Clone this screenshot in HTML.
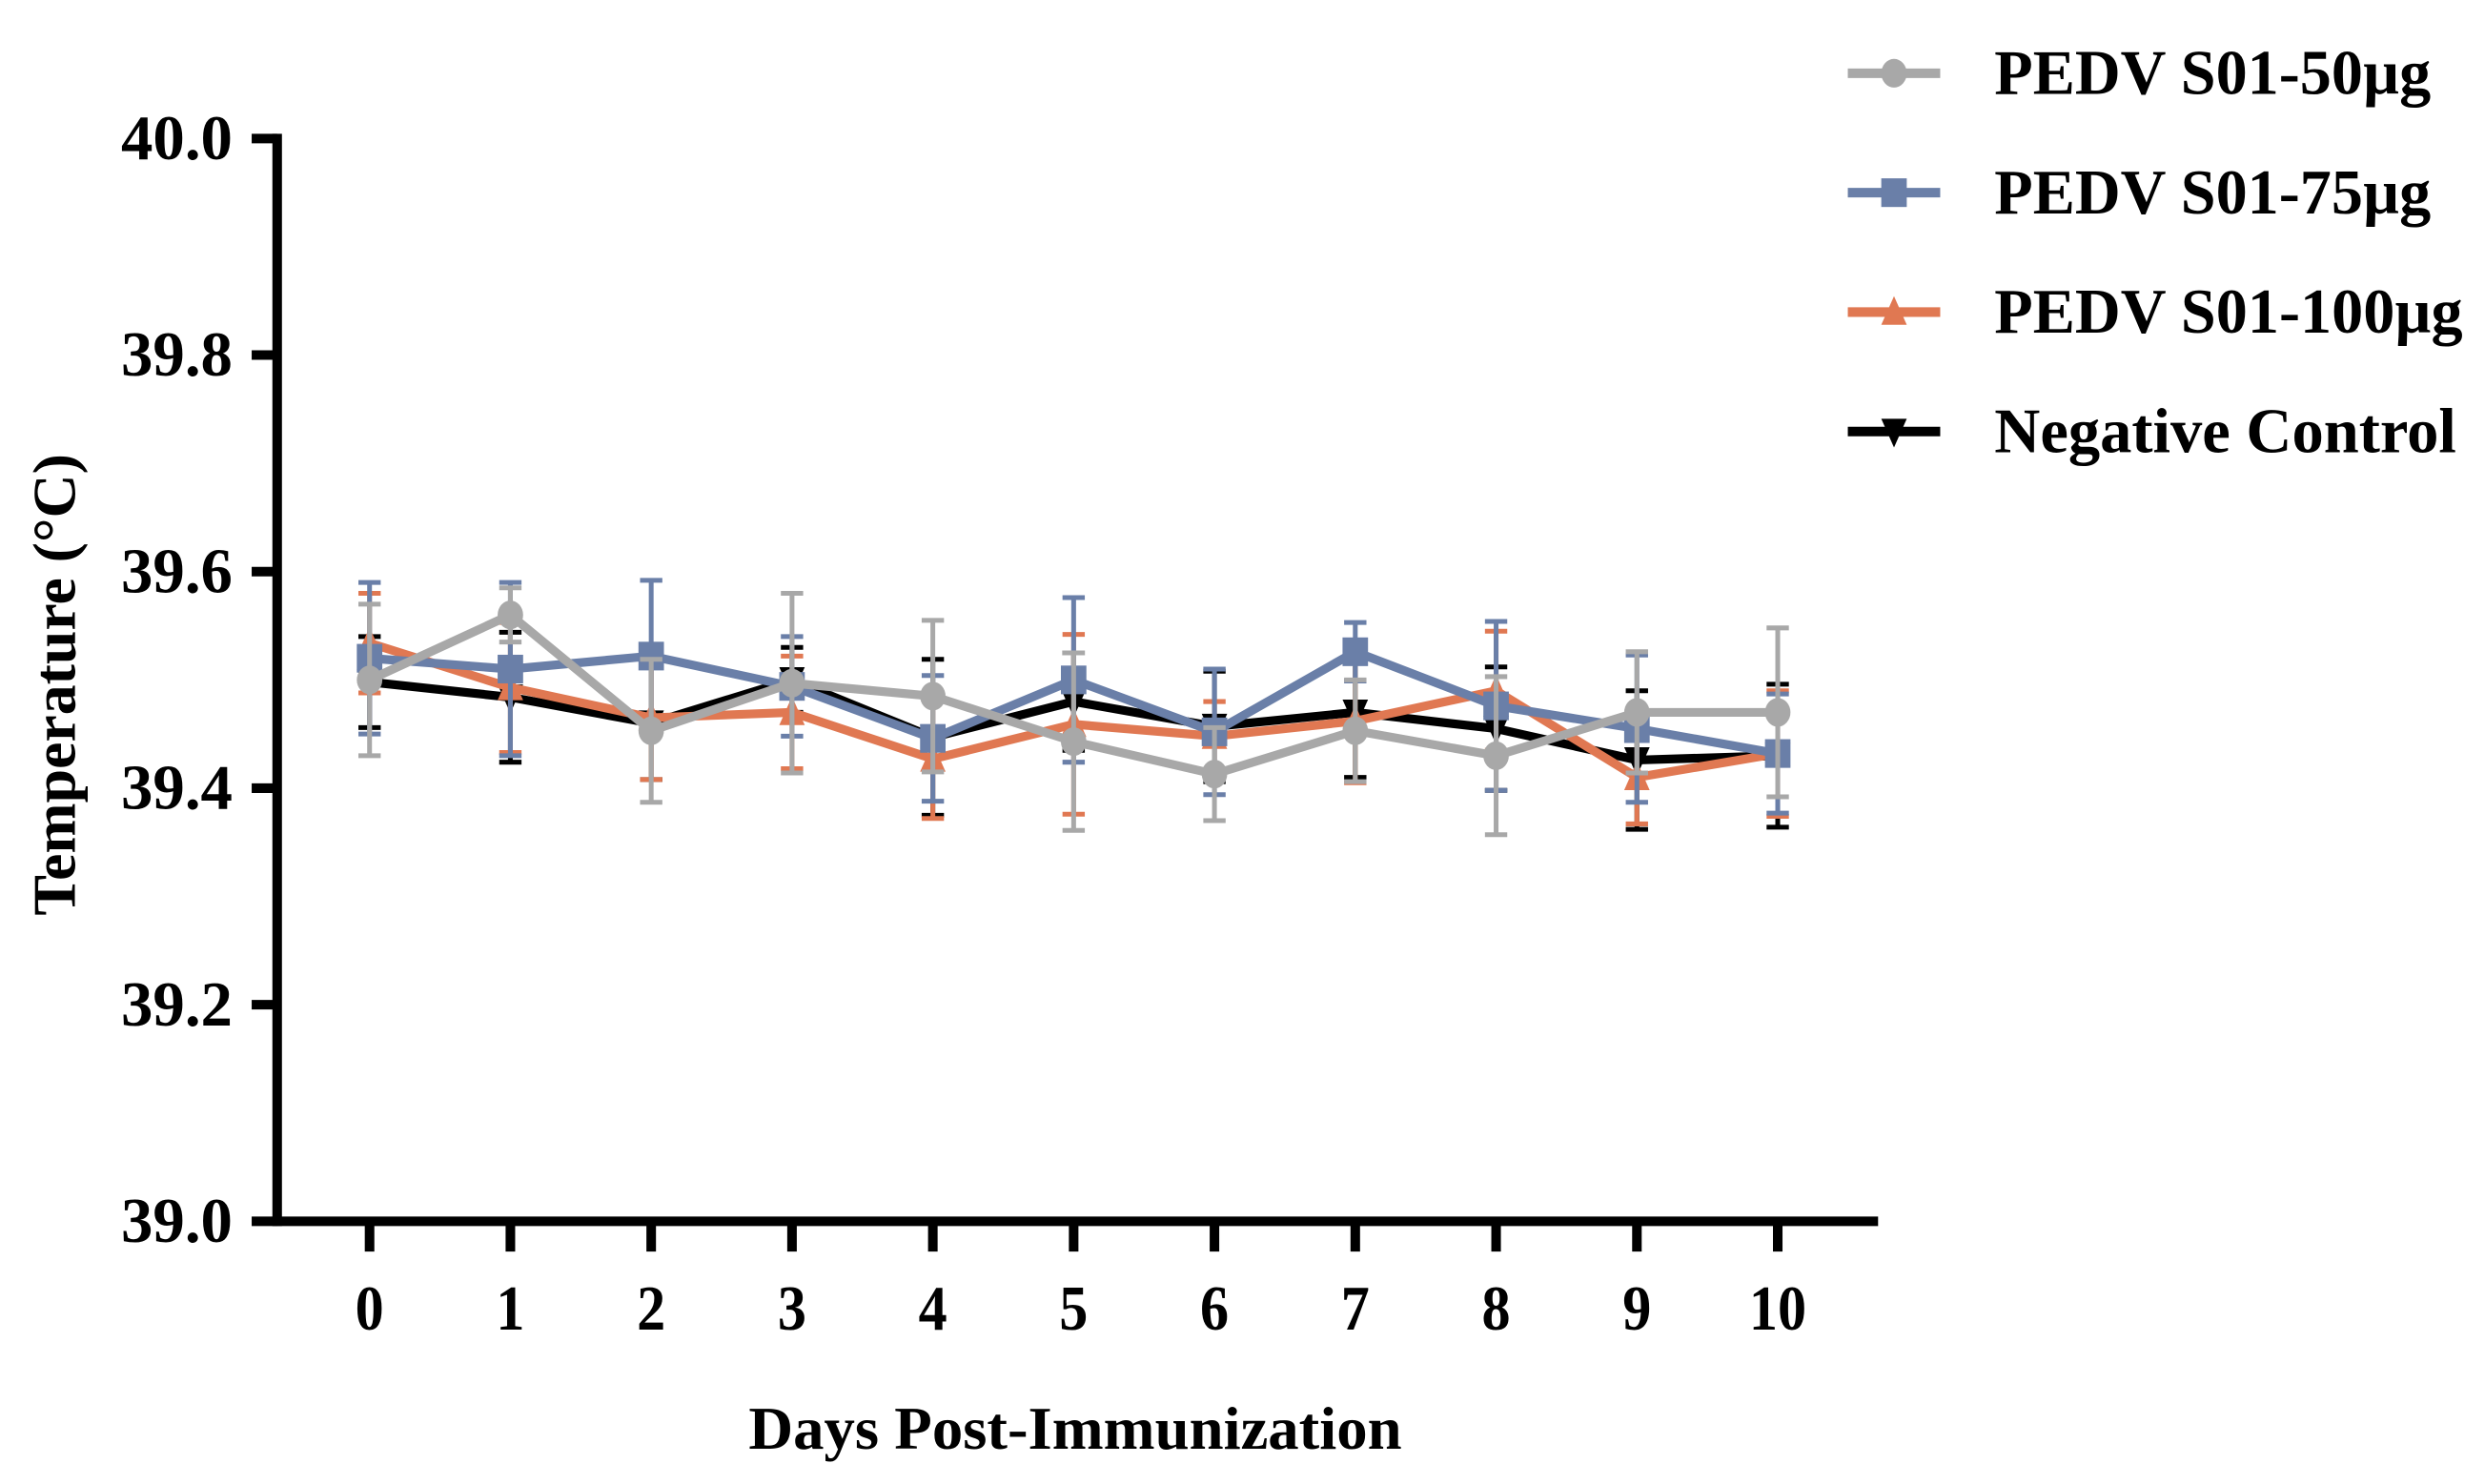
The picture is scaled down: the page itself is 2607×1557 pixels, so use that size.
<!DOCTYPE html>
<html><head><meta charset="utf-8"><style>
html,body{margin:0;padding:0;background:#fff;}
svg{display:block;}
text{font-family:"Liberation Serif","Times New Roman",serif;font-weight:bold;fill:#000;}
</style></head><body>
<svg id="chart" width="2607" height="1557" viewBox="0 0 1560 932" preserveAspectRatio="none" xmlns="http://www.w3.org/2000/svg">
<g id="axes"></g>
<g id="series"></g>
<g id="legend"></g>
</svg>
<script>
const days = [0,1,2,3,4,5,6,7,8,9,10];
const yTicks = [39.0,39.2,39.4,39.6,39.8,40.0];
const yTickLabels = ["39.0","39.2","39.4","39.6","39.8","40.0"];
const seriesNames = ["Negative Control","PEDV S01-100µg","PEDV S01-75µg","PEDV S01-50µg"];
const ctrlMean = [39.498,39.484,39.460,39.500,39.447,39.480,39.457,39.470,39.455,39.426,39.430];
const ctrlErr  = [0.042,0.060,0.052,0.030,0.072,0.045,0.051,0.060,0.057,0.064,0.066];
const s100Mean = [39.534,39.493,39.465,39.470,39.427,39.459,39.448,39.462,39.490,39.410,39.432];
const s100Err  = [0.046,0.060,0.057,0.052,0.055,0.083,0.032,0.057,0.055,0.043,0.058];
const s75Mean  = [39.520,39.510,39.522,39.494,39.446,39.500,39.452,39.526,39.476,39.455,39.432];
const s75Err   = [0.070,0.080,0.070,0.046,0.058,0.076,0.058,0.027,0.078,0.068,0.055];
const s50Mean  = [39.500,39.560,39.453,39.497,39.485,39.443,39.413,39.453,39.430,39.470,39.470];
const s50Err   = [0.070,0.025,0.066,0.083,0.070,0.082,0.043,0.047,0.073,0.056,0.078];

const NS="http://www.w3.org/2000/svg";
const xS = d => 232 + d*88.4;
const yS = v => 767 - (v-39.0)*680;
function mk(tag, attrs, parent){const e=document.createElementNS(NS,tag);for(const k in attrs)e.setAttribute(k,attrs[k]);parent.appendChild(e);return e;}
const axes=document.getElementById('axes');
let e;
e=mk('line',{x1:174,y1:84,x2:174,y2:770,stroke:'#000','stroke-width':6},axes);


e=mk('line',{x1:171,y1:767,x2:1179,y2:767,stroke:'#000','stroke-width':6},axes);


yTicks.forEach((t,i)=>{
  const y=yS(t);
  let tk=mk('line',{x1:158,y1:y,x2:174,y2:y,stroke:'#000','stroke-width':6},axes);
  
  
  let lb=mk('text',{x:146,y:y+13,'text-anchor':'end','font-size':40,textLength:70,lengthAdjust:'spacingAndGlyphs'},axes);
  lb.textContent=yTickLabels[i];
  
  
});
days.forEach(d=>{
  const x=xS(d);
  let tk=mk('line',{x1:x,y1:767,x2:x,y2:786,stroke:'#000','stroke-width':6},axes);
  
  
  const s=String(d);
  let lb=mk('text',{x:x,y:835,'text-anchor':'middle','font-size':40,textLength:s.length*18,lengthAdjust:'spacingAndGlyphs'},axes);
  lb.textContent=s;
  
  
});
e=mk('text',{x:675,y:910,'text-anchor':'middle','font-size':38,textLength:410,lengthAdjust:'spacingAndGlyphs'},axes);
e.textContent='Days Post-Immunization';


e=mk('text',{x:0,y:0,'text-anchor':'middle','font-size':38,transform:'translate(47,430) rotate(-90)',textLength:290,lengthAdjust:'spacingAndGlyphs'},axes);
e.textContent='Temperature (°C)';



const colors=['#000000','#e07852','#6a7fa8','#a8a8a8'];
const means=[ctrlMean,s100Mean,s75Mean,s50Mean];
const errs=[ctrlErr,s100Err,s75Err,s50Err];
const keys=['negative-control','s01-100ug','s01-75ug','s01-50ug'];
const markers=['tridown','triup','square','circle'];
function marker(type,x,y,c,parent){
  let m;
  if(type==='circle') m=mk('ellipse',{cx:x,cy:y,rx:8,ry:9,fill:c},parent);
  else if(type==='square') m=mk('rect',{x:x-8,y:y-9,width:16,height:18,fill:c},parent);
  else if(type==='triup') m=mk('polygon',{points:`${x},${y-10} ${x+8},${y+8} ${x-8},${y+8}`,fill:c},parent);
  else m=mk('polygon',{points:`${x-8},${y-8} ${x+8},${y-8} ${x},${y+10}`,fill:c},parent);
  return m;
}
const sg=document.getElementById('series');
means.forEach((mean,si)=>{
  const g=mk('g',{},sg);
  
  
  const c=colors[si];
  mean.forEach((v,i)=>{
    const x=xS(days[i]),hi=yS(v+errs[si][i]),lo=yS(v-errs[si][i]);
    let b=mk('path',{d:`M${x},${hi}V${lo}M${x-7},${hi}H${x+7}M${x-7},${lo}H${x+7}`,stroke:c,'stroke-width':3,fill:'none'},g);
    
    
  });
  const pts=mean.map((v,i)=>xS(days[i])+','+yS(v)).join(' ');
  let l=mk('polyline',{points:pts,stroke:c,'stroke-width':5.5,fill:'none','stroke-linejoin':'miter'},g);
  
  
  mean.forEach((v,i)=>{
    let m=marker(markers[si],xS(days[i]),yS(v),c,g);
    
    
  });
});
const lg=document.getElementById('legend');
const legOrder=[3,2,1,0];
const legY=[46,121,196,271];
const legW=[274,274,294,290];
legOrder.forEach((si,k)=>{
  const g=mk('g',{},lg);
  
  
  const y=legY[k];
  mk('line',{x1:1160,y1:y,x2:1218,y2:y,stroke:colors[si],'stroke-width':6},g);
  marker(markers[si],1189,y,colors[si],g);
  let t=mk('text',{x:1252,y:y+13,'font-size':40,textLength:legW[k],lengthAdjust:'spacingAndGlyphs'},g);
  t.textContent=seriesNames[si];
  
  
});
</script>
</body></html>
